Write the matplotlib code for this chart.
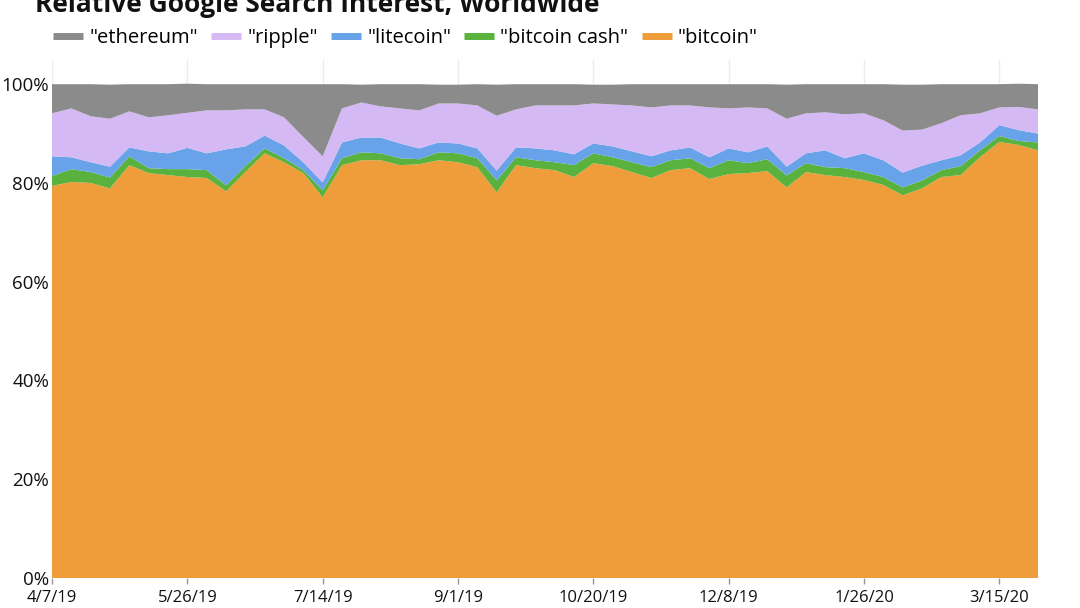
import numpy as np
import pandas as pd
import matplotlib
matplotlib.use("Agg")
from matplotlib import pyplot as plt
import matplotlib.dates as mdates
from matplotlib.ticker import FuncFormatter

plt.rcParams['font.family'] = ['Open Sans', 'DejaVu Sans']

# weekly share of search interest (%), 4/7/19 .. 3/29/20
weeks = pd.date_range("2019-04-07", periods=52, freq="7D")

bitcoin = [79.4, 80.2, 80.0, 78.9, 83.6, 82.0, 81.6, 81.2, 81.0, 78.3,
           82.2, 86.0, 84.2, 82.0, 77.1, 83.6, 84.6, 84.6, 83.6, 83.8,
           84.6, 84.2, 83.2, 78.1, 83.6, 83.0, 82.6, 81.2, 84.0, 83.4,
           82.2, 81.0, 82.6, 83.0, 80.8, 81.8, 82.0, 82.4, 79.1, 82.2,
           81.6, 81.2, 80.6, 79.6, 77.5, 78.9, 81.2, 81.6, 85.2, 88.3,
           87.7, 86.6]
bitcoin_cash = [2.0, 2.6, 2.2, 2.2, 1.8, 1.0, 1.2, 1.6, 1.6, 1.2,
                1.2, 1.0, 0.8, 0.6, 1.4, 1.4, 1.6, 1.4, 1.4, 1.0,
                1.6, 1.8, 1.8, 2.4, 1.6, 1.6, 1.6, 2.4, 2.0, 1.8,
                2.0, 2.2, 2.0, 2.0, 2.2, 2.8, 2.0, 2.4, 2.4, 1.8,
                1.6, 1.8, 1.6, 1.6, 1.6, 1.6, 1.4, 1.8, 1.4, 1.2,
                0.8, 1.6]
litecoin = [4.0, 2.4, 2.0, 2.2, 1.8, 3.4, 3.2, 4.3, 3.4, 7.3,
            4.0, 2.6, 2.6, 1.6, 1.6, 3.2, 3.0, 3.2, 3.0, 2.2,
            2.0, 2.0, 2.0, 2.0, 2.0, 2.4, 2.4, 2.2, 2.0, 2.2,
            2.2, 2.2, 2.0, 2.2, 2.2, 2.4, 2.2, 2.6, 1.8, 2.0,
            3.4, 2.0, 3.8, 3.4, 3.0, 3.0, 2.0, 2.2, 1.6, 2.2,
            2.2, 1.8]
ripple = [8.7, 9.9, 9.3, 9.7, 7.3, 6.9, 7.7, 7.1, 8.7, 7.9,
          7.5, 5.3, 5.7, 5.1, 5.3, 6.9, 7.1, 6.3, 7.1, 7.7,
          7.9, 8.1, 8.7, 11.1, 7.7, 8.7, 9.1, 9.9, 8.1, 8.5,
          9.3, 9.9, 9.1, 8.5, 10.1, 8.1, 9.1, 7.7, 9.7, 8.1,
          7.7, 8.9, 8.1, 8.1, 8.5, 7.3, 7.5, 8.1, 5.9, 3.6,
          4.7, 4.9]
ethereum = [5.9, 4.9, 6.5, 6.9, 5.5, 6.7, 6.3, 5.9, 5.3, 5.3,
            5.1, 5.1, 6.7, 10.7, 14.6, 4.9, 3.6, 4.5, 4.9, 5.3,
            3.8, 3.8, 4.3, 6.3, 5.1, 4.3, 4.3, 4.3, 3.8, 4.0,
            4.3, 4.7, 4.3, 4.3, 4.7, 4.9, 4.7, 4.9, 6.9, 5.9,
            5.7, 6.1, 5.9, 7.3, 9.3, 9.1, 7.9, 6.3, 5.9, 4.7,
            4.7, 5.1]

labels = ['"bitcoin"', '"bitcoin cash"', '"litecoin"', '"ripple"', '"ethereum"']
colors = ['#EF9D3A', '#58B23D', '#68A2E9', '#D4B9F5', '#8B8B8B']

fig = plt.figure(figsize=(10.8, 6.08), dpi=100)
ax = fig.add_axes([52 / 1080, 30 / 608, 986 / 1080, 518 / 608])

polys = ax.stackplot(weeks, bitcoin, bitcoin_cash, litecoin, ripple, ethereum,
                     colors=colors, linewidth=0)

ax.set_xlim(weeks[0], weeks[-1])
ax.set_ylim(0, 104.9)
ax.set_yticks([0, 20, 40, 60, 80, 100])
ax.yaxis.set_major_formatter(FuncFormatter(lambda v, p: "%d%%" % v))
ax.set_xticks(weeks[::7])
ax.xaxis.set_major_formatter(FuncFormatter(
    lambda v, p: "{d.month}/{d.day}/{y}".format(d=mdates.num2date(v), y=mdates.num2date(v).strftime("%y"))))

ax.grid(axis='x', color='#ececec', linewidth=1)
ax.set_axisbelow(True)
for s in ax.spines.values():
    s.set_visible(False)
ax.tick_params(axis='y', length=0, pad=2, labelsize=13.5, labelcolor='#111111')
ax.tick_params(axis='x', length=4, width=1, color='#999999', pad=5,
               labelsize=12, labelcolor='#111111')

# legend: ethereum first, bitcoin last
handles = [plt.Line2D([], [], color=c, linewidth=5, solid_capstyle='butt') for c in colors][::-1]
fig.legend(handles, labels[::-1], loc='center left', bbox_to_anchor=(45 / 1080, 1 - 38 / 608),
           ncol=5, frameon=False, fontsize=14.5, handlelength=1.5, handletextpad=0.3,
           columnspacing=0.65, borderaxespad=0)

fig.text(35 / 1080, 1 - 12 / 608, "Relative Google Search Interest, Worldwide",
         fontsize=19, fontweight='bold', va='baseline', ha='left', color='#111111')

fig.savefig("out.png", dpi=100)
